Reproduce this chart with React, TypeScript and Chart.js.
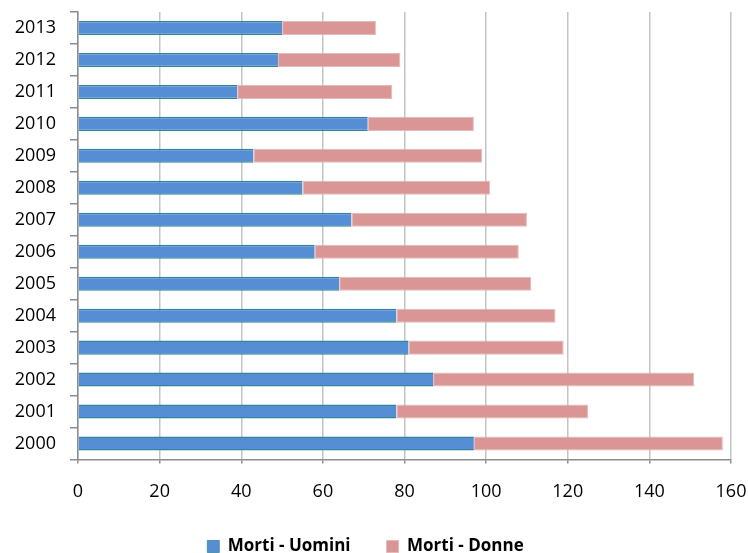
import React, { useEffect, useRef } from "react";
import { Chart, registerables } from "chart.js";

Chart.register(...registerables);

const years = ["2013", "2012", "2011", "2010", "2009", "2008", "2007", "2006", "2005", "2004", "2003", "2002", "2001", "2000"];
const mortiUomini = [50, 49, 39, 71, 43, 55, 67, 58, 64, 78, 81, 87, 78, 97];
const mortiDonne = [23, 30, 38, 26, 56, 46, 43, 50, 47, 39, 38, 64, 47, 61];
const xMin = 0;
const xMax = 160;
const xStep = 20;

const zeroPad = (s: any) => {
  s.paddingLeft = 0;
  s.paddingRight = 0;
  s.paddingTop = 0;
  s.paddingBottom = 0;
};

export default function App() {
  const ref = useRef<HTMLCanvasElement | null>(null);
  useEffect(() => {
    if (!ref.current) return;
    const font = "'Open Sans', Lato, sans-serif";
    const chart = new Chart(ref.current, {
      type: "bar",
      data: {
        labels: years,
        datasets: [
          {
            label: "Morti - Uomini",
            data: mortiUomini,
            backgroundColor: "#558ed5",
            borderColor: "#31849b",
            borderWidth: { top: 1.5, bottom: 1.5, right: 0, left: 0 },
            borderSkipped: false,
            categoryPercentage: 0.44,
            barPercentage: 1,
          },
          {
            label: "Morti - Donne",
            data: mortiDonne,
            backgroundColor: "#d99694",
            borderColor: "#e6b9b8",
            borderWidth: 1,
            borderSkipped: false,
            categoryPercentage: 0.44,
            barPercentage: 1,
          },
        ],
      },
      options: {
        indexAxis: "y",
        animation: false,
        responsive: false,
        maintainAspectRatio: false,
        layout: { padding: { top: 12, right: 17, left: 0, bottom: 0 } },
        scales: {
          x: {
            stacked: true,
            min: xMin,
            max: xMax,
            afterFit: (s: any) => {
              s.height = 42.5;
              zeroPad(s);
            },
            ticks: { stepSize: xStep, color: "#000", font: { family: font, size: 18 }, padding: 18 },
            grid: { color: "#c4c4c4", lineWidth: 1.5, tickLength: 4, tickColor: "#8c8c8c" },
            border: { color: "#8c8c8c", width: 1.5 },
          },
          y: {
            stacked: true,
            afterFit: (s: any) => {
              s.width = 78;
              zeroPad(s);
            },
            ticks: { color: "#000", font: { family: font, size: 18 }, padding: 14 },
            grid: { drawOnChartArea: false, tickLength: 8, color: "#8c8c8c", lineWidth: 1.5 },
            border: { color: "#8c8c8c", width: 1.5 },
          },
        },
        plugins: {
          tooltip: { enabled: false },
          legend: {
            position: "bottom",
            maxHeight: 51,
            labels: {
              color: "#000",
              font: { family: font, size: 17, weight: "bold" },
              boxWidth: 12,
              boxHeight: 12,
              padding: 36,
            },
          },
        },
      },
    });
    return () => chart.destroy();
  }, []);
  return (
    <div style={{ position: "fixed", left: 0, top: 0, width: 748, height: 553, background: "#fff" }}>
      <canvas ref={ref} width={748} height={553} style={{ width: 748, height: 553 }} />
    </div>
  );
}
